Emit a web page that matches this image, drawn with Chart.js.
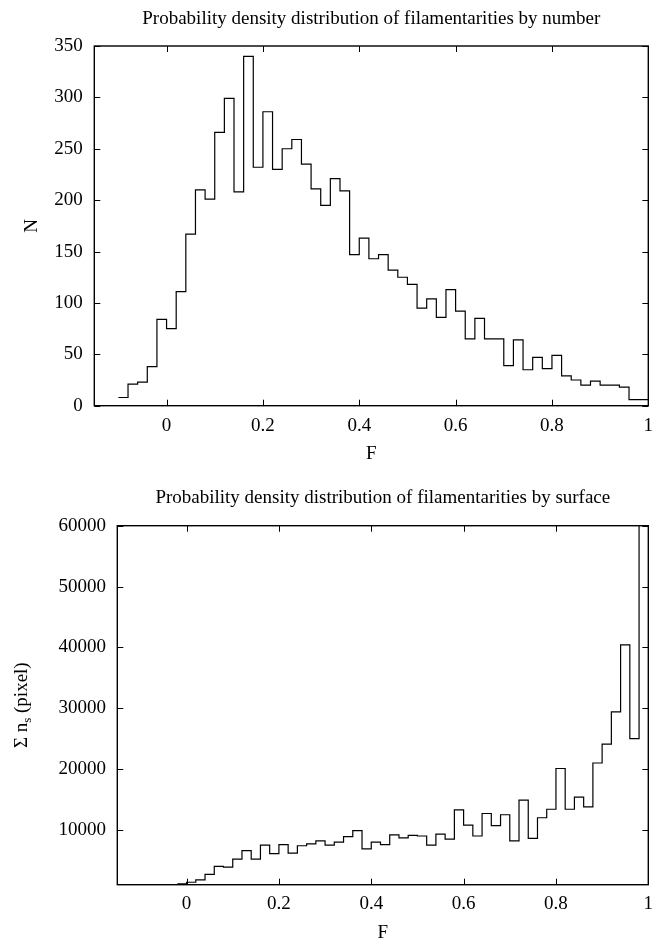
<!DOCTYPE html>
<html>
<head>
<meta charset="utf-8">
<script src="https://cdn.jsdelivr.net/npm/chart.js@4.4.1/dist/chart.umd.min.js"></script>
<style>
html,body{margin:0;padding:0;background:#fff;width:654px;height:939px;overflow:hidden}
.box{position:absolute;left:0;width:654px}
</style>
</head>
<body>
<div class="box" style="top:0;height:470px"><canvas id="c1" width="654" height="470"></canvas></div>
<div class="box" style="top:470px;height:469px"><canvas id="c2" width="654" height="469"></canvas></div>
<script>
// ---- Data: histogram by number ----
const numberBinEdges = [-0.10,-0.08,-0.06,-0.04,-0.02,0.00,0.02,0.04,0.06,0.08,0.10,0.12,0.14,0.16,0.18,0.20,0.22,0.24,0.26,0.28,0.30,0.32,0.34,0.36,0.38,0.40,0.42,0.44,0.46,0.48,0.50,0.52,0.54,0.56,0.58,0.60,0.62,0.64,0.66,0.68,0.70,0.72,0.74,0.76,0.78,0.80,0.82,0.84,0.86,0.88,0.90,0.92,0.94,0.96,0.98,1.00];
const numberCounts = [8,21,23,38,84,75,111,167,210,201,266,299,208,340,232,286,230,250,259,235,211,195,221,209,147,163,143,147,132,125,118,95,104,86,113,92,65,85,65,65,39,64,35,47,36,49,29,25,20,24,20,20,18,6,6];

// ---- Data: histogram by surface ----
const surfaceBinEdges = [-0.02,0.00,0.02,0.04,0.06,0.08,0.10,0.12,0.14,0.16,0.18,0.20,0.22,0.24,0.26,0.28,0.30,0.32,0.34,0.36,0.38,0.40,0.42,0.44,0.46,0.48,0.50,0.52,0.54,0.56,0.58,0.60,0.62,0.64,0.66,0.68,0.70,0.72,0.74,0.76,0.78,0.80,0.82,0.84,0.86,0.88,0.90,0.92,0.94,0.96,0.98,1.00];
const surfacePixels = [1150,1400,1800,2700,4000,3900,5200,6600,5200,7500,6100,7600,6200,7400,7700,8200,7500,8000,8900,9900,6900,8000,7600,9200,8700,9100,9000,7500,9300,8500,13300,10800,9000,12700,10700,12500,8200,14900,8600,12000,13400,20100,13400,15400,13800,21000,24100,29400,40400,25000,75000];

// ---- Tick labels ----
const fTicks = [0, 0.2, 0.4, 0.6, 0.8, 1];
const numberTicks = [0, 50, 100, 150, 200, 250, 300, 350];
const surfaceTicks = [10000, 20000, 30000, 40000, 50000, 60000];

const titleNumber = 'Probability density distribution of filamentarities by number';
const titleSurface = 'Probability density distribution of filamentarities by surface';
const xLabel = 'F';
const yLabelNumber = 'N';

// each bin value is held from its left edge to the next edge
function stepPoints(edges, vals) {
  return edges.map((e, i) => ({x: e, y: vals[Math.min(i, vals.length - 1)]}));
}
const setTicks = arr => s => { s.ticks = arr.map(v => ({value: v})); };

Chart.defaults.font.family = '"Liberation Serif", "Times New Roman", serif';
Chart.defaults.font.size = 19;
Chart.defaults.color = '#000';

const fmt = v => String(+(+v).toFixed(2));

const frameTicks = {
  id: 'frameTicks',
  afterDatasetsDraw(chart) {
    const {ctx, chartArea: {left, right, top, bottom}, scales: {x, y}} = chart;
    const L = 6;
    ctx.save();
    ctx.strokeStyle = '#000';
    ctx.lineWidth = 1;
    ctx.beginPath();
    x.ticks.forEach(t => {
      const px = Math.round(x.getPixelForValue(t.value)) + 0.5;
      ctx.moveTo(px, bottom); ctx.lineTo(px, bottom - L);
      ctx.moveTo(px, top); ctx.lineTo(px, top + L);
    });
    y.ticks.forEach(t => {
      const py = Math.round(y.getPixelForValue(t.value)) + 0.5;
      ctx.moveTo(left, py); ctx.lineTo(left + L, py);
      ctx.moveTo(right, py); ctx.lineTo(right - L, py);
    });
    ctx.stroke();
    ctx.lineWidth = 1.4;
    ctx.strokeRect(left, top, right - left, bottom - top);
    ctx.restore();
  }
};

const surfaceYLabel = {
  id: 'surfaceYLabel',
  afterDraw(chart) {
    const {ctx, chartArea: {top, bottom}} = chart;
    const fam = Chart.defaults.font.family;
    const big = '19px ' + fam, small = '13px ' + fam;
    ctx.save();
    ctx.fillStyle = '#000';
    ctx.textBaseline = 'alphabetic';
    ctx.textAlign = 'left';
    const parts = [
      {t: 'Σ n', f: big, dy: 0},
      {t: 's', f: small, dy: 4},
      {t: ' (pixel)', f: big, dy: 0}
    ];
    let w = 0;
    parts.forEach(p => { ctx.font = p.f; p.w = ctx.measureText(p.t).width; w += p.w; });
    ctx.translate(26.5, (top + bottom) / 2);
    ctx.rotate(-Math.PI / 2);
    let cx = -w / 2;
    parts.forEach(p => { ctx.font = p.f; ctx.fillText(p.t, cx, p.dy); cx += p.w; });
    ctx.restore();
  }
};

function lineDataset(points) {
  return {
    data: points,
    borderColor: '#000',
    borderWidth: 1.2,
    pointRadius: 0,
    fill: false,
    stepped: 'before',
    tension: 0
  };
}

function makeOptions(cfg) {
  return {
    responsive: false,
    animation: false,
    layout: { padding: { left: 0, right: 5.7, top: 0, bottom: 0 } },
    plugins: {
      legend: { display: false },
      tooltip: { enabled: false },
      title: {
        display: true, text: cfg.title, fullSize: false,
        font: { size: 19, weight: 'normal' }, color: '#000',
        padding: cfg.titlePad
      }
    },
    scales: {
      x: {
        type: 'linear', min: -0.15, max: 1.0,
        grid: { display: false, drawTicks: false },
        border: { display: false },
        afterBuildTicks: setTicks(fTicks),
        ticks: { padding: cfg.xTickPad, maxRotation: 0, autoSkip: false, callback: fmt },
        title: { display: true, text: xLabel, padding: { top: 0, bottom: cfg.xTitlePad } },
        afterFit: s => { s.height = cfg.xHeight; s.paddingLeft = 0; s.paddingRight = 0; }
      },
      y: {
        type: 'linear', min: cfg.yMin, max: cfg.yMax,
        grid: { display: false, drawTicks: false },
        border: { display: false },
        afterBuildTicks: setTicks(cfg.yTicks),
        ticks: { padding: cfg.yTickPad, autoSkip: false, callback: fmt },
        title: cfg.yTitle,
        afterFit: s => { s.width = cfg.yWidth; }
      }
    }
  };
}

new Chart(document.getElementById('c1'), {
  type: 'line',
  data: { datasets: [lineDataset(stepPoints(numberBinEdges, numberCounts))] },
  options: makeOptions({
    title: titleNumber, titlePad: { top: 7.8, bottom: 15.4 },
    xTickPad: 9.1, xTitlePad: 4.9, xHeight: 64.3,
    yMin: 0, yMax: 350, yTicks: numberTicks, yTickPad: 11.6, yWidth: 94.3,
    yTitle: { display: true, text: yLabelNumber, padding: { top: 20.6, bottom: 0 } }
  }),
  plugins: [frameTicks]
});

new Chart(document.getElementById('c2'), {
  type: 'line',
  data: { datasets: [lineDataset(stepPoints(surfaceBinEdges, surfacePixels))] },
  options: makeOptions({
    title: titleSurface, titlePad: { top: 16.5, bottom: 16.4 },
    xTickPad: 8.4, xTitlePad: -5, xHeight: 54.3,
    yMin: 1000, yMax: 60000, yTicks: surfaceTicks, yTickPad: 11.3, yWidth: 117.3,
    yTitle: { display: false }
  }),
  plugins: [frameTicks, surfaceYLabel]
});
</script>
</body>
</html>
